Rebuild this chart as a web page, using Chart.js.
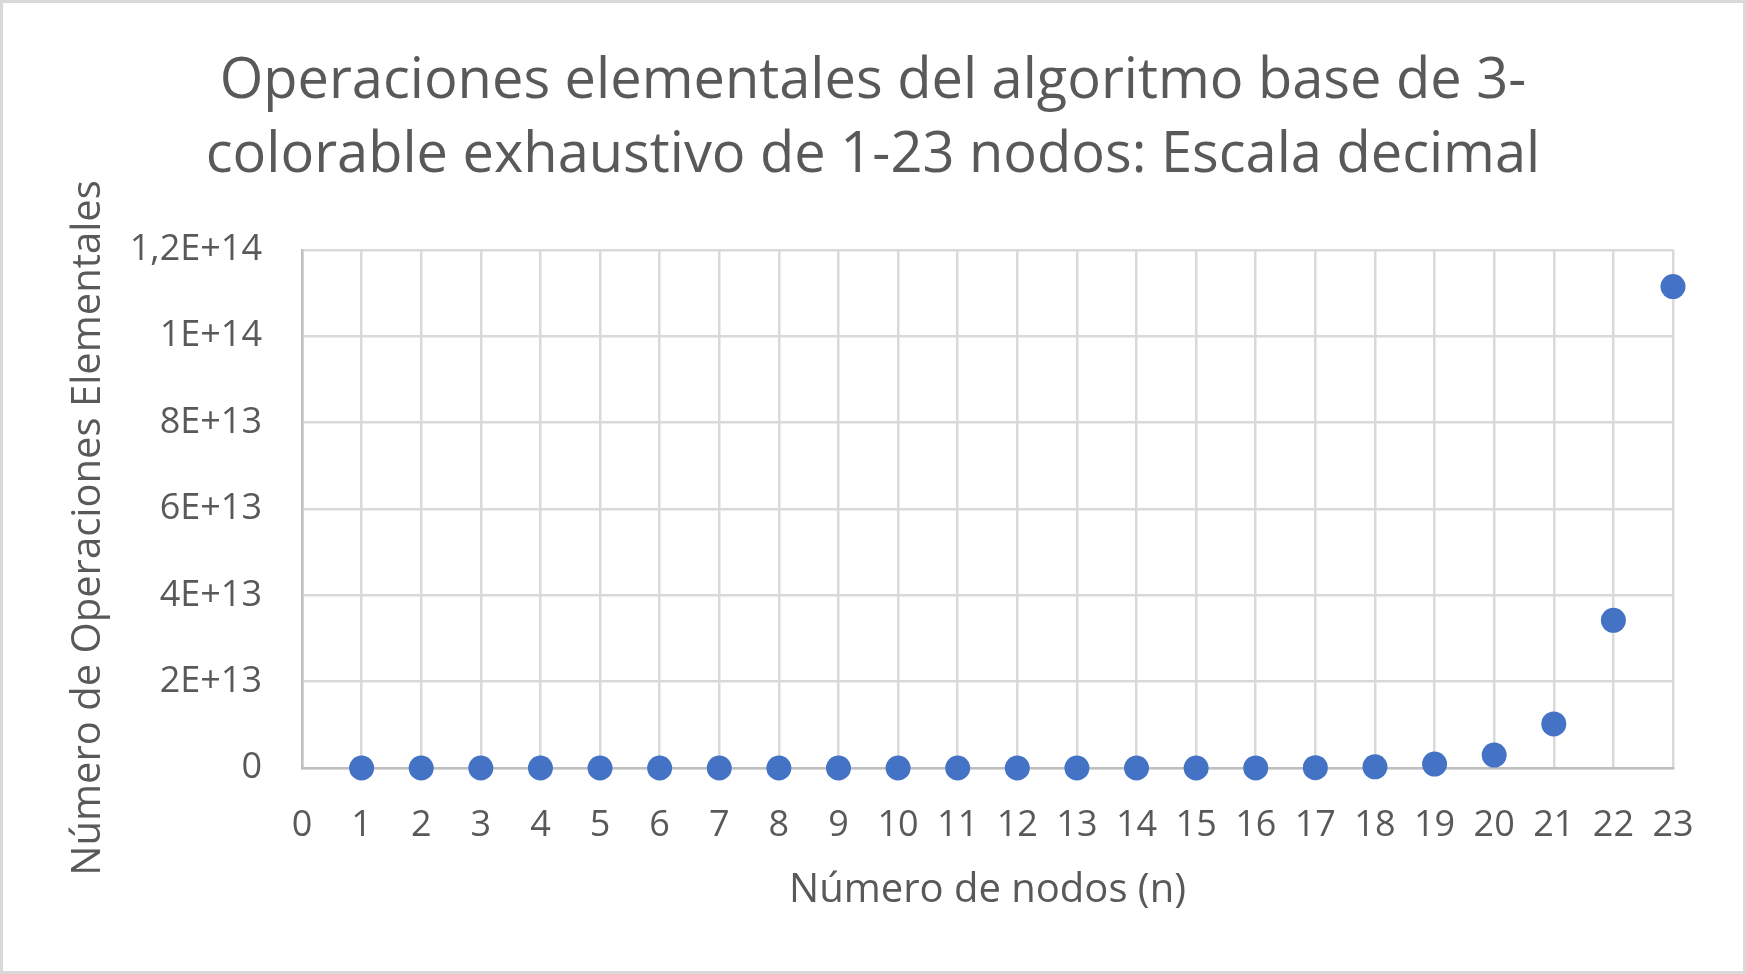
<!DOCTYPE html>
<html>
<head>
<meta charset="utf-8">
<script src="https://cdn.jsdelivr.net/npm/chart.js@4.4.0/dist/chart.umd.min.js"></script>
<style>
  html, body { margin: 0; padding: 0; background: #ffffff; }
  #wrap { width: 1746px; height: 974px; position: relative; }
  canvas { display: block; }
</style>
</head>
<body>
<div id="wrap"><canvas id="c" width="1746" height="974"></canvas></div>
<script>
// ---- data ----
const titleLines = [
  'Operaciones elementales del algoritmo base de 3-',
  'colorable exhaustivo de 1-23 nodos: Escala decimal'
];
const xTitle = 'Número de nodos (n)';
const yTitle = 'Número de Operaciones Elementales';
const nodos = [1, 2, 3, 4, 5, 6, 7, 8, 9, 10, 11, 12, 13, 14, 15, 16, 17, 18, 19, 20, 21, 22, 23];
const operaciones = [
  7, 80, 540, 2900, 13500, 58000, 230000, 930000, 3500000, 13000000,
  48000000, 170000000, 600000000, 2100000000, 7200000000, 24000000000,
  83000000000, 280000000000, 900000000000, 3000000000000, 10200000000000,
  34200000000000, 111500000000000
];
const yTickValues = [0, 2e13, 4e13, 6e13, 8e13, 1e14, 1.2e14];
const yTickLabels = ['0', '2E+13', '4E+13', '6E+13', '8E+13', '1E+14', '1,2E+14'];
const xMin = 0, xMax = 23;

const FONT = "'Open Sans', 'Noto Sans', sans-serif";
const TEXT = '#595959';
const GRID = '#d9d9d9';
const AXIS = '#bfbfbf';

const borderPlugin = {
  id: 'outerBorder',
  beforeDraw(chart) {
    const ctx = chart.ctx;
    ctx.save();
    ctx.fillStyle = '#ffffff';
    ctx.fillRect(0, 0, chart.width, chart.height);
    ctx.strokeStyle = '#d9d9d9';
    ctx.lineWidth = 3;
    ctx.strokeRect(1.5, 1.5, chart.width - 3, chart.height - 3);
    ctx.restore();
  }
};

// y-axis title drawn as real canvas text, slightly below the plot centre as in the reference
const yTitlePlugin = {
  id: 'yTitle',
  afterDraw(chart) {
    const ctx = chart.ctx;
    const area = chart.chartArea;
    ctx.save();
    ctx.translate(89, (area.top + area.bottom) / 2 + 19);
    ctx.rotate(-Math.PI / 2);
    ctx.fillStyle = TEXT;
    ctx.font = '40px ' + FONT;
    ctx.textAlign = 'center';
    ctx.textBaseline = 'middle';
    ctx.fillText(yTitle, 0, 0);
    ctx.restore();
  }
};

new Chart(document.getElementById('c'), {
  type: 'scatter',
  data: {
    datasets: [{
      data: nodos.map((n, i) => ({ x: n, y: operaciones[i] })),
      backgroundColor: '#4472c4',
      borderColor: '#4472c4',
      pointRadius: 12.5,
      pointHoverRadius: 12.5,
      borderWidth: 0,
      clip: false
    }]
  },
  options: {
    responsive: false,
    animation: false,
    layout: { padding: 0 },
    plugins: {
      legend: { display: false },
      tooltip: { enabled: false },
      title: {
        display: true,
        text: titleLines,
        color: TEXT,
        font: { family: FONT, size: 56, weight: 'normal', lineHeight: 1.32 },
        padding: { top: 45, bottom: 57 }
      }
    },
    scales: {
      x: {
        type: 'linear',
        min: xMin,
        max: xMax,
        afterFit(scale) { scale.height = 206; scale.paddingRight = 73; },
        ticks: {
          stepSize: 1,
          color: TEXT,
          font: { family: FONT, size: 36 },
          padding: 36,
          maxRotation: 0,
          autoSkip: false
        },
        grid: { color: GRID, lineWidth: 2.5, drawTicks: false },
        border: { color: AXIS, width: 2.5 },
        title: {
          display: true,
          text: xTitle,
          color: TEXT,
          font: { family: FONT, size: 40 },
          padding: { top: 0, bottom: 59 }
        }
      },
      y: {
        type: 'linear',
        min: 0,
        max: 1.2e14,
        afterFit(scale) { scale.width = 302; },
        afterBuildTicks(scale) { scale.ticks = yTickValues.map(v => ({ value: v })); },
        ticks: {
          color: TEXT,
          font: { family: FONT, size: 36 },
          padding: 40,
          callback: (v) => {
            const i = yTickValues.indexOf(v);
            return i >= 0 ? yTickLabels[i] : '';
          }
        },
        grid: { color: GRID, lineWidth: 2.5, drawTicks: false },
        border: { color: AXIS, width: 2.5 },
        title: { display: false }
      }
    }
  },
  plugins: [borderPlugin, yTitlePlugin]
});
</script>
</body>
</html>
